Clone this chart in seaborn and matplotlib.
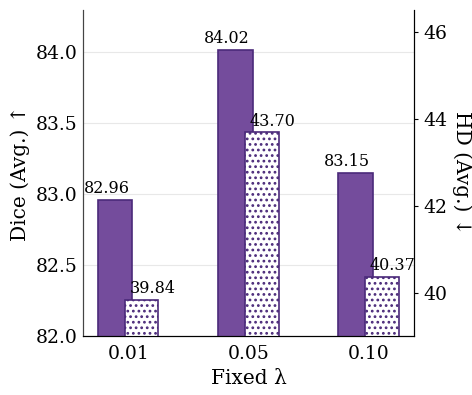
import matplotlib
matplotlib.use("Agg")
import matplotlib.pyplot as plt
import seaborn as sns

lambdas = ["0.01", "0.05", "0.10"]
dice = [82.96, 84.02, 83.15]
hd = [39.84, 43.70, 40.37]

purple = "#744c9c"
edge = "#4b2a7a"

sns.set_style("white")
plt.rcParams["font.family"] = ["DejaVu Serif"]
plt.rcParams["hatch.linewidth"] = 1.2
plt.rcParams["text.color"] = "black"
plt.rcParams["axes.labelcolor"] = "black"
plt.rcParams["xtick.color"] = "black"
plt.rcParams["ytick.color"] = "black"

fig, ax1 = plt.subplots(figsize=(4.72, 3.95), dpi=100)
fig.subplots_adjust(left=0.176, right=0.877, bottom=0.149, top=0.975)

sns.barplot(x=lambdas, y=dice, ax=ax1, width=0.29, color=purple,
            edgecolor=edge, linewidth=1.2, saturation=1)
for p in ax1.patches:
    p.set_x(p.get_x() - 0.11)

ax2 = ax1.twinx()
sns.barplot(x=lambdas, y=hd, ax=ax2, width=0.28, color="white",
            edgecolor=edge, linewidth=1.2, hatch="...", saturation=1)
for p in ax2.patches:
    p.set_x(p.get_x() + 0.11)

for i, v in enumerate(dice):
    ax1.text(i - 0.18, v + 0.02, f"{v:.2f}", ha="center", va="bottom", fontsize=11.5)
for i, v in enumerate(hd):
    ax2.text(i + 0.20, v + 0.05, f"{v:.2f}", ha="center", va="bottom", fontsize=11.5)

ax1.set_xlim(-0.375, 2.375)
ax1.set_ylim(82.0, 84.3)
ax1.set_yticks([82.0, 82.5, 83.0, 83.5, 84.0])
ax1.set_yticklabels([f"{t:.1f}" for t in [82.0, 82.5, 83.0, 83.5, 84.0]])
ax2.set_ylim(39.0, 46.5)
ax2.set_yticks([40, 42, 44, 46])

ax1.grid(axis="y", color="#e8e8e8", linewidth=0.8)
ax1.set_axisbelow(True)

ax1.set_xlabel("Fixed λ", fontsize=14.5)
ax1.set_ylabel("Dice (Avg.) ↑", fontsize=14.5)
ax2.set_ylabel("HD (Avg.) ↓", fontsize=14.5, rotation=270, labelpad=18)

ax1.tick_params(axis="y", length=0, labelsize=13.5, pad=4)
ax1.tick_params(axis="x", length=3, labelsize=13.5)
ax2.tick_params(axis="y", length=3, labelsize=13.5)

for ax in (ax1, ax2):
    ax.spines["top"].set_visible(False)
    ax.spines["left"].set_color("#444444")
    ax.spines["right"].set_color("black")
    ax.spines["bottom"].set_color("black")

fig.savefig("out.png", dpi=100)
